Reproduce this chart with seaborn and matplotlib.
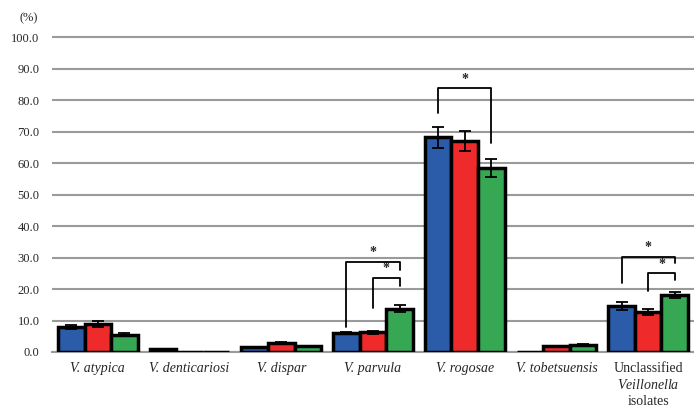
import numpy as np
import pandas as pd
import matplotlib
matplotlib.use("Agg")
import matplotlib.pyplot as plt
import seaborn as sns

sns.set_style("white")
plt.rcParams['font.family'] = ['Liberation Serif', 'DejaVu Serif']
plt.rcParams['mathtext.fontset'] = 'custom'
plt.rcParams['mathtext.it'] = 'Liberation Serif:italic'
plt.rcParams['mathtext.rm'] = 'Liberation Serif'

# data (%)
species = ['V. atypica', 'V. denticariosi', 'V. dispar', 'V. parvula',
           'V. rogosae', 'V. tobetsuensis', 'Unclassified Veillonella isolates']
groups = ['Group 1', 'Group 2', 'Group 3']
g1_vals = [8.0, 0.8, 1.5, 6.0, 68.2, 0.0, 14.6]
g2_vals = [8.8, 0.0, 3.0, 6.2, 67.0, 1.8, 12.6]
g3_vals = [5.5, 0.0, 1.8, 13.8, 58.5, 2.2, 18.0]
g1_err = [0.7, 0.0, 0.2, 0.3, 3.4, 0.0, 1.2]
g2_err = [0.9, 0.0, 0.3, 0.4, 3.3, 0.2, 0.9]
g3_err = [0.4, 0.0, 0.2, 1.2, 2.9, 0.3, 1.0]
colors = ['#2B5CA9', '#EE2A2B', '#36A854']

# significance brackets: (species index, hue a, hue b, top, left leg end, right leg end)
brackets = [(3, 0, 2, 28.6, 8.0, 26.0),
            (3, 1, 2, 23.5, 14.0, 21.0),
            (4, 0, 2, 83.8, 76.0, 66.3),
            (6, 0, 2, 30.2, 22.0, 28.3),
            (6, 1, 2, 25.0, 19.4, 23.0)]

df = pd.DataFrame({
    'species': species * 3,
    'group': np.repeat(groups, len(species)),
    'value': g1_vals + g2_vals + g3_vals,
})
errs = [g1_err, g2_err, g3_err]

fig = plt.figure(figsize=(6.94, 4.07), dpi=100)
ax = fig.add_axes([52 / 694, 55 / 407, 1 - 52 / 694, 318 / 407])

sns.barplot(data=df, x='species', y='value', hue='group', hue_order=groups,
            order=species, palette=colors, errorbar=None, width=0.87,
            edgecolor='black', linewidth=2.5, saturation=1, ax=ax, legend=False,
            zorder=3)

# error bars
centers = []
for cont, err in zip(ax.containers, errs):
    xs = [b.get_x() + b.get_width() / 2 for b in cont]
    hs = [b.get_height() for b in cont]
    centers.append(xs)
    for x, h, e in zip(xs, hs, err):
        if e > 0:
            ax.errorbar(x, h, yerr=e, fmt='none', ecolor='black', elinewidth=1.3,
                        capsize=4, capthick=1.3, zorder=4)

# brackets with stars
for i, a, b, top, la, lb in brackets:
    xa, xb = centers[a][i], centers[b][i]
    ax.plot([xa, xa, xb, xb], [la, top, top, lb], color='black', lw=1.3, zorder=5)
    ax.text((xa + xb) / 2, top + 0.8, '*', ha='center', va='bottom', fontsize=10,
            fontweight='bold')

ax.set_ylim(0, 101)
ax.set_xlim(-0.5, 6.5)
ax.set_yticks(np.arange(0, 101, 10))
ax.set_yticklabels([f'{v:.1f}' for v in np.arange(0, 101, 10)], fontsize=9)
ax.yaxis.grid(True, color='#9a9a9a', lw=1.5, zorder=0)
ax.set_axisbelow(True)
sns.despine(ax=ax, left=True)
ax.spines['bottom'].set_color('#9a9a9a')
ax.spines['bottom'].set_linewidth(1.5)

ax.set_xticks(range(len(species)))
labels = species[:6] + ['Unclassified\n$\\mathit{Veillonella}$\nisolates']
ax.set_xticklabels(labels, fontsize=10, linespacing=1.3)
for lbl in ax.get_xticklabels()[:6]:
    lbl.set_style('italic')
ax.set_xticks(np.arange(-0.5, 7, 1), minor=True)
ax.tick_params(axis='x', which='major', length=0, pad=7)
ax.tick_params(axis='x', which='minor', length=7, width=1.5, color='#9a9a9a', direction='out')
ax.tick_params(axis='y', length=0, pad=9)
ax.set_xlabel('')
ax.set_ylabel('')

fig.text(20 / 694, 1 - 18 / 407, '(%)', fontsize=9, va='center')

fig.savefig('out.png', dpi=100)
